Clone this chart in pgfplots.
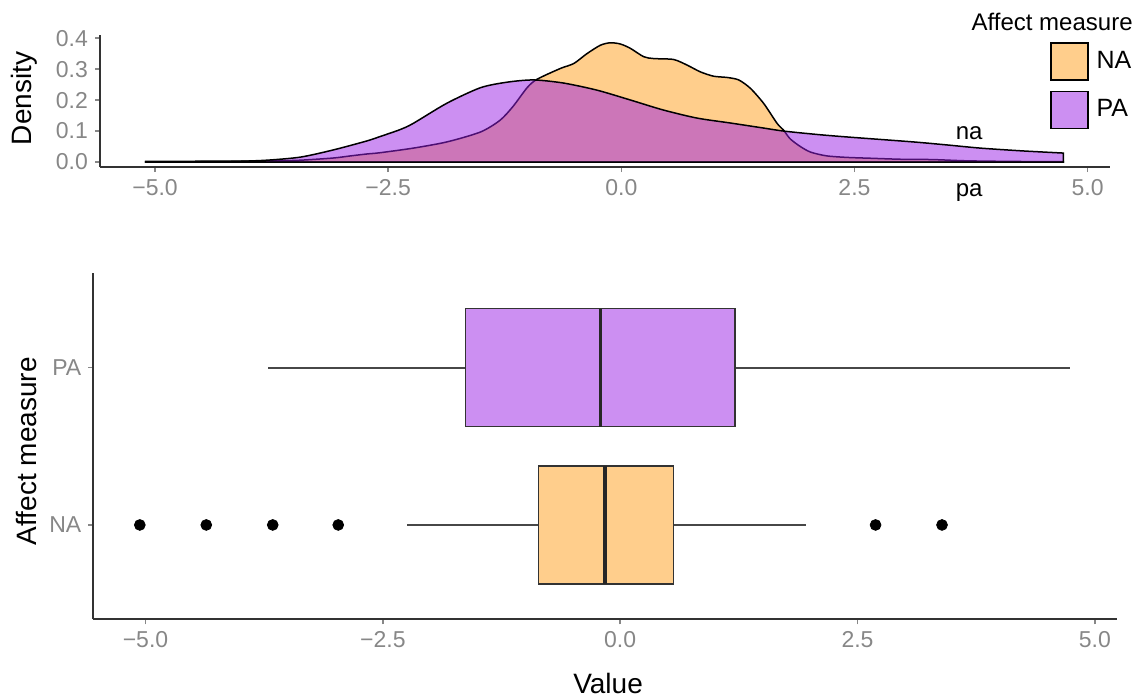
\documentclass[border=0pt]{standalone}
\usepackage{fontspec}
\setmainfont{Liberation Sans}
\usepackage{pgfplots}
\pgfplotsset{compat=1.18}
\usepgfplotslibrary{statistics}

\definecolor{naBase}{RGB}{255,157,25}
\definecolor{paBase}{RGB}{153,31,229}
\definecolor{naBox}{RGB}{255,206,140}
\definecolor{paBox}{RGB}{204,143,242}
\definecolor{tickgray}{RGB}{135,135,135}
\definecolor{axisdark}{RGB}{51,51,51}

\pgfplotsset{
  ggaxis/.style={
    scale only axis,
    axis lines*=left,
    axis line style={axisdark, line width=0.9pt, -},
    tick align=outside,
    major tick length=2.5pt,
    tick style={tickgray, line width=0.7pt},
    ticklabel style={tickgray, font=\fontsize{11.5}{13}\selectfont},
    label style={font=\fontsize{14}{16}\selectfont, black},
    clip=false,
    xtick={-5,-2.5,0,2.5,5},
    xticklabels={−5.0,−2.5,0.0,2.5,5.0},
  }
}

\begin{document}
\begin{tikzpicture}
\path[use as bounding box] (0,0) rectangle (572.5pt,-349pt);

% ---------- top: density ----------
\begin{axis}[ggaxis,
  at={(50pt,-83.5pt)}, anchor=south west,
  width=505pt, height=66pt,
  xmin=-5.59, xmax=5.24,
  ymin=-0.016, ymax=0.41,
  ytick={0,0.1,0.2,0.3,0.4},
  yticklabels={0.0,0.1,0.2,0.3,0.4},
  ylabel={Density},
  ylabel style={at={(axis description cs:-0.075,0.52)}, anchor=center},
  legend style={at={(axis description cs:0.9406,0.947)}, anchor=north west,
    draw=none, fill=none, inner sep=0pt, outer sep=0pt, row sep=5pt,
    font=\fontsize{12.5}{14}\selectfont, text=black,
    nodes={inner sep=0pt},
    /tikz/every odd column/.append style={column sep=4pt}},
  legend cell align=left,
  legend image code/.code={\draw[#1, sharp plot] (0pt,-9.25pt) rectangle (18.5pt,9.25pt);},
]
\addplot[draw=black, line width=0.75pt, fill=naBase, fill opacity=0.5, smooth, tension=0.45] coordinates {
(-5.1,0.002) (-4.8,0.002) (-4.4,0.003) (-4.0,0.003) (-3.7,0.004)
(-3.44,0.006) (-3.09,0.013) (-2.9,0.02) (-2.73,0.026) (-2.59,0.03) (-2.23,0.045)
(-1.87,0.065) (-1.51,0.097) (-1.3,0.135) (-1.16,0.18) (-1.01,0.24) (-0.905,0.267)
(-0.654,0.302) (-0.51,0.318) (-0.368,0.35) (-0.225,0.377) (-0.118,0.385) (-0.01,0.381)
(0.097,0.367) (0.24,0.34) (0.347,0.334) (0.56,0.331) (0.705,0.313) (0.848,0.291)
(0.99,0.277) (1.134,0.273) (1.259,0.265) (1.384,0.238) (1.527,0.189) (1.67,0.125)
(1.74,0.103) (1.81,0.075) (1.92,0.05) (2.03,0.032) (2.2,0.02) (2.42,0.015)
(2.7,0.012) (3.0,0.009) (3.34,0.008) (3.7,0.004) (4.2,0.002) (4.74,0.001)
} \closedcycle;
\addlegendentry{NA}
\addplot[draw=black, line width=0.75pt, fill=paBase, fill opacity=0.5, smooth, tension=0.45] coordinates {
(-5.1,0.0003) (-4.5,0.001) (-4.15,0.002) (-3.8,0.006) (-3.44,0.016)
(-3.09,0.039) (-2.73,0.068) (-2.59,0.082) (-2.37,0.105) (-2.23,0.125) (-1.87,0.19)
(-1.51,0.24) (-1.22,0.258) (-0.94,0.265) (-0.62,0.255) (-0.26,0.232) (0.1,0.2)
(0.45,0.168) (0.81,0.142) (1.17,0.126) (1.52,0.11) (1.74,0.10) (2.1,0.089)
(2.42,0.081) (3.13,0.065) (3.5,0.055) (3.85,0.045) (4.3,0.036) (4.74,0.029)
} \closedcycle;
\addlegendentry{PA}
\node[font=\fontsize{12}{14}\selectfont, text=black] at (axis cs:3.73,0.094) {na};
\node[font=\fontsize{12}{14}\selectfont, text=black] at (axis cs:3.73,-0.097) {pa};
\node[anchor=east, inner sep=0pt, font=\fontsize{12}{14}\selectfont, text=black]
  at (axis description cs:1.0228,1.098) {Affect measure};
\end{axis}

% ---------- bottom: boxplot ----------
\begin{axis}[ggaxis,
  at={(46.65pt,-309.65pt)}, anchor=south west,
  width=511.7pt, height=173pt,
  xmin=-5.55, xmax=5.23,
  ymin=0.4, ymax=2.6,
  ytick={1,2}, yticklabels={NA,PA},
  xlabel={Value},
  xlabel style={at={(axis description cs:0.503,-0.185)}, anchor=center},
  ylabel={Affect measure},
  ylabel style={at={(axis description cs:-0.065,0.486)}, anchor=center},
]
\addplot[boxplot prepared={draw position=1,
    lower whisker=-2.25, lower quartile=-0.86, median=-0.16,
    upper quartile=0.56, upper whisker=1.96,
    box extend=0.75, whisker extend=0, draw direction=x,
    every box/.style={draw=axisdark, fill=naBox, line width=0.75pt},
    every whisker/.style={draw=axisdark!90, line width=0.9pt},
    every median/.style={draw=black!85, line width=1.6pt}},
  draw=axisdark] coordinates {};
\addplot[boxplot prepared={draw position=2,
    lower whisker=-3.71, lower quartile=-1.63, median=-0.21,
    upper quartile=1.21, upper whisker=4.74,
    box extend=0.75, whisker extend=0, draw direction=x,
    every box/.style={draw=axisdark, fill=paBox, line width=0.75pt},
    every whisker/.style={draw=axisdark!90, line width=0.9pt},
    every median/.style={draw=black!85, line width=1.6pt}},
  draw=axisdark] coordinates {};
\addplot[only marks, mark=*, mark size=2.7pt, black] coordinates {
(-5.06,1) (-4.36,1) (-3.66,1) (-2.97,1) (2.69,1) (3.39,1)};
\end{axis}
\end{tikzpicture}
\end{document}
